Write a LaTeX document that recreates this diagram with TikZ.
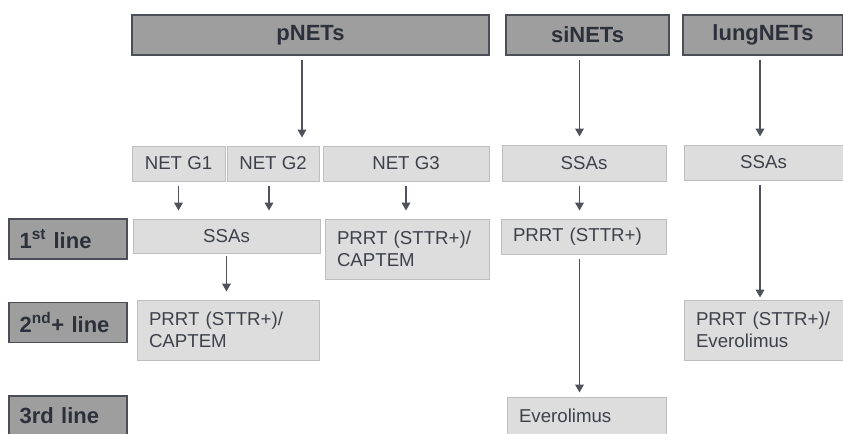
\documentclass[tikz,border=0pt]{standalone}
\usepackage{fontspec}
\setmainfont{Liberation Sans}
\usetikzlibrary{arrows.meta}

\definecolor{hdrfill}{HTML}{9E9E9E}
\definecolor{hdrline}{HTML}{4B4E57}
\definecolor{boxfill}{HTML}{DDDDDD}
\definecolor{boxline}{HTML}{BEBEBE}
\definecolor{txtdark}{HTML}{2C303A}
\definecolor{txtbody}{HTML}{3E4149}
\definecolor{arrgray}{HTML}{4F525A}

\tikzset{every picture/.style={line width=0.75pt}}
\tikzset{
  hdr/.style={draw=hdrline, fill=hdrfill, line width=1.1pt, inner sep=0pt,
    minimum height=30pt, text=txtdark, font=\fontsize{16.5}{19}\selectfont\bfseries},
  rowlbl/.style={hdr, minimum width=88.5pt, text width=72.5pt, inner xsep=8pt, align=left},
  tbox/.style={draw=boxline, fill=boxfill, line width=0.75pt, inner sep=0pt,
    text=txtbody, font=\fontsize{14}{16.5}\selectfont},
  lbox/.style={tbox, inner xsep=9pt, align=left},
  arr/.style={draw=arrgray, line width=1.1pt, -{Triangle[width=6.5pt,length=6pt]},
    shorten <=3pt, shorten >=6pt}
}

\begin{document}
\begin{tikzpicture}[x=0.75pt,y=-0.75pt]
\useasboundingbox (0,0) rectangle (843,433);

\node[hdr, minimum width=267.75pt] (pnets) at (310.5,35) {pNETs};
\node[hdr, minimum width=122.25pt] (sinets) at (587.5,35) {siNETs};
\node[hdr, minimum width=120pt] (lungnets) at (763,35) {lungNETs};

\node[tbox, minimum width=69.75pt, minimum height=26.25pt] (gone) at (178.5,163.5) {NET G1};
\node[tbox, minimum width=69pt, minimum height=26.25pt] (gtwo) at (273,163.5) {NET G2};
\node[tbox, minimum width=124.5pt, minimum height=26.25pt] (gthree) at (406,163.5) {NET G3};
\node[tbox, minimum width=123pt, minimum height=27pt] (sissa) at (584,163) {SSAs};
\node[tbox, minimum width=119.25pt, minimum height=26.25pt] (lungssa) at (763.5,162.5) {SSAs};

\node[rowlbl] (lineone) at (68,239) {1\textsuperscript{st} line};
\node[tbox, minimum width=140.25pt, minimum height=25.5pt] (pssa) at (226.5,236) {SSAs};
\node[lbox, text width=105pt, minimum height=45pt] (gprrt) at (407,249) {PRRT (STTR+)/\\CAPTEM};
\node[lbox, text width=105.75pt, minimum height=26.25pt] (siprrt) at (583.5,236.5) {PRRT (STTR+)};

\node[rowlbl] (linetwo) at (68,322.5) {2\textsuperscript{nd}+ line};
\node[lbox, text width=118.5pt, minimum height=45pt] (pprrt) at (228,330) {PRRT (STTR+)/\\CAPTEM};
\node[lbox, text width=101.25pt, minimum height=45pt] (lungprrt) at (763.5,330) {PRRT (STTR+)/\\Everolimus};

\node[rowlbl] (linethree) at (68,416) {3rd line};
\node[lbox, text width=101.25pt, minimum height=28.5pt] (everol) at (586.5,416) {Everolimus};

\coordinate (pdrop) at (302,0);
\coordinate (sidrop) at (579.5,0);
\coordinate (lungdrop) at (760,0);

\draw[arr] (pnets.south -| pdrop) -- (gtwo.north -| pdrop);
\draw[arr] (sinets.south -| sidrop) -- (sissa.north -| sidrop);
\draw[arr] (lungnets.south -| lungdrop) -- (lungssa.north -| lungdrop);
\draw[arr] (gone.south) -- (gone.south |- pssa.north);
\draw[arr] (gtwo.south -| 269,0) -- (pssa.north -| 269,0);
\draw[arr] (gthree.south) -- (gthree.south |- gprrt.north);
\draw[arr] (sissa.south -| sidrop) -- (siprrt.north -| sidrop);
\draw[arr, shorten <=1.5pt] (pssa.south) -- (pssa.south |- pprrt.north);
\draw[arr, shorten >=3pt] (siprrt.south -| sidrop) -- (everol.north -| sidrop);
\draw[arr, shorten >=1.5pt] (lungssa.south -| lungdrop) -- (lungprrt.north -| lungdrop);
\end{tikzpicture}
\end{document}
